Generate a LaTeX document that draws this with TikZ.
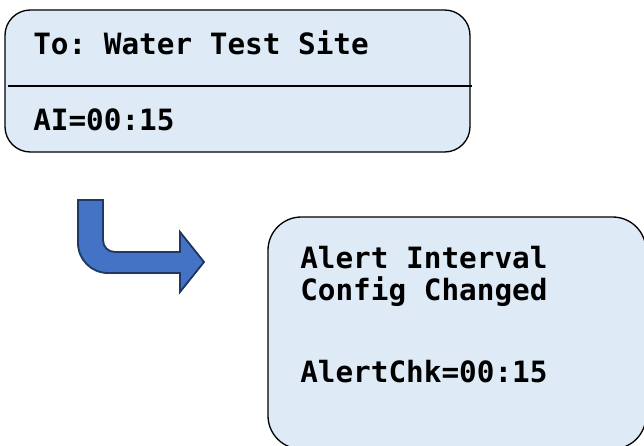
\documentclass[tikz,border=0pt]{standalone}
\usepackage{fontspec}
\setmonofont{DejaVu Sans Mono}
\definecolor{boxFill}{HTML}{DEEBF7}
\definecolor{arrowFill}{HTML}{4472C4}
\definecolor{arrowEdge}{HTML}{203864}
\newcommand{\screenLine}[4]{%%
  \node[textStyle] (#1) at (#2,#3) {#4};
}

\begin{document}
\begin{tikzpicture}[%%
  x=0.75pt,y=-0.75pt,%%
  boxStyle/.style={draw,line width=1pt,fill=boxFill,inner sep=0pt,outer sep=0pt},%%
  lineStyle/.style={-,line width=1pt},%%
  textStyle/.style={anchor=base west,inner sep=0pt,font=\ttfamily\bfseries\fontsize{22}{24}\selectfont},%%
  arrowStyle/.style={fill=arrowFill,draw=arrowEdge,line width=1.4pt,line join=miter}
]
%%
\useasboundingbox (0,0) rectangle (644,446);
%%
\coordinate (divStart) at (8,86);
\coordinate (divEnd) at (472,86);
%%
%% The message screen.
\node[boxStyle,rounded corners=19pt,minimum width=348.75pt,minimum height=106.5pt] (sendBox) at (237.5,81) {};
\draw[lineStyle] (divStart) -- (divEnd);
\screenLine{sendTo}{33}{55}{To: Water Test Site}
\screenLine{sendAI}{33}{130}{AI=00:15}
%%
%% The reply screen, running off the page at the right and bottom.
\node[boxStyle,rounded corners=25pt,minimum width=283.5pt,minimum height=174pt] (replyBox) at (457,333) {};
\screenLine{replyHead}{300}{268}{Alert Interval}
\screenLine{replySub}{300}{300}{Config Changed}
\screenLine{replyChk}{300}{382}{AlertChk=00:15}
%%
%% The bent arrow between them.
\draw[arrowStyle] (78,200) -- (103,200) -- (103,240)
  .. controls (103,247) and (108,252) .. (115,252)
  -- (180,252) -- (180,232) -- (204,262) -- (180,292) -- (180,273) -- (108,273)
  .. controls (91.4,273) and (78,259.6) .. (78,243) -- cycle;
\end{tikzpicture}
\end{document}
